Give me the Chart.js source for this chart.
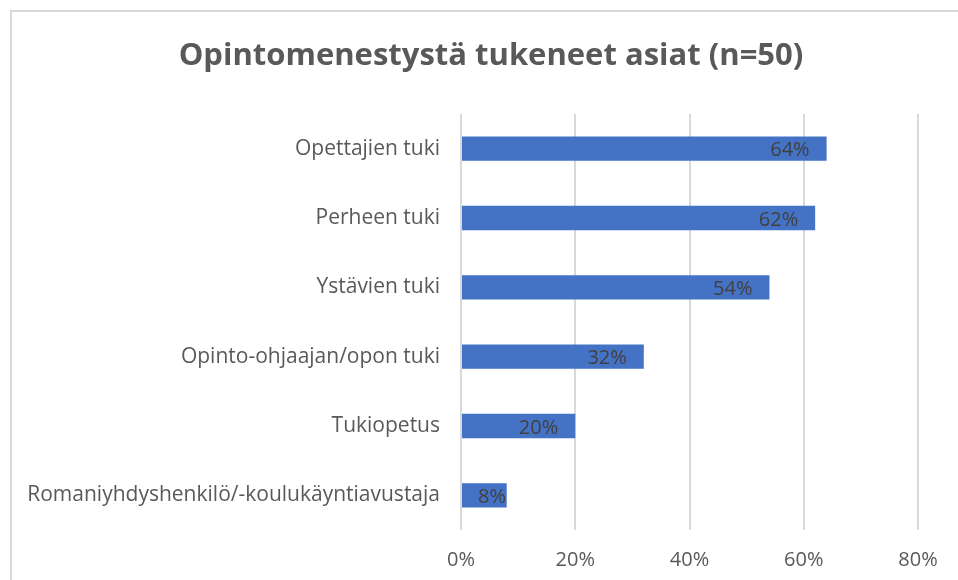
<!DOCTYPE html>
<html>
<head>
<meta charset="utf-8">
<script src="https://cdn.jsdelivr.net/npm/chart.js@4.4.1/dist/chart.umd.min.js"></script>
<style>
    html, body { margin: 0; padding: 0; background: #ffffff; }
    #wrap { position: relative; width: 958px; height: 580px; overflow: hidden; }
    #frame { position: absolute; left: 10px; top: 10px; width: 1000px; height: 1000px;
             border-top: 2px solid #d9d9d9; border-left: 2px solid #d9d9d9; box-sizing: border-box; }
    #support_chart { position: absolute; left: 0; top: 0; }
</style>
</head>
<body>
<div id="wrap">
    <div id="frame"></div>
    <canvas id="support_chart" width="958" height="580"></canvas>
</div>
<script>
const chart_title = "Opintomenestystä tukeneet asiat (n=50)";
const categories = [
    "Opettajien tuki",
    "Perheen tuki",
    "Ystävien tuki",
    "Opinto-ohjaajan/opon tuki",
    "Tukiopetus",
    "Romaniyhdyshenkilö/-koulukäyntiavustaja"
];
const percent_values = [64, 62, 54, 32, 20, 8];
const x_ticks = [0, 20, 40, 60, 80];

const font_family = "'Open Sans', sans-serif";
const text_grey = "#595959";
const bar_blue = "#4472C4";

// labels at the inside end of each bar, like the office chart does it
const inside_end_labels = {
    id: "inside_end_labels",
    afterDatasetsDraw(chart) {
        let ctx = chart.ctx;
        let meta = chart.getDatasetMeta(0);
        ctx.save();
        ctx.font = "20px " + font_family;
        ctx.fillStyle = "#404040";
        ctx.textBaseline = "middle";
        ctx.textAlign = "left";
        meta.data.forEach(function(bar, i) {
            let label = percent_values[i] + "%";
            let w = ctx.measureText(label).width;
            let x = Math.max(bar.x - 17 - w, bar.base + 16);
            ctx.fillText(label, x, bar.y + 2);
        });
        ctx.restore();
    }
};

// title sits a bit right of the canvas middle in the original
const offset_title = {
    id: "offset_title",
    afterDraw(chart) {
        let ctx = chart.ctx;
        ctx.save();
        ctx.font = "bold 31px " + font_family;
        ctx.fillStyle = text_grey;
        ctx.textAlign = "center";
        ctx.textBaseline = "middle";
        ctx.fillText(chart_title, 491, 56);
        ctx.restore();
    }
};

const support_chart = new Chart(document.getElementById("support_chart").getContext("2d"), {
    type: "bar",
    data: {
        labels: categories,
        datasets: [{
            data: percent_values,
            backgroundColor: bar_blue,
            borderWidth: 0,
            categoryPercentage: 1,
            barPercentage: 0.35
        }]
    },
    options: {
        indexAxis: "y",
        responsive: false,
        animation: false,
        layout: { padding: { left: 0, right: 40, top: 114, bottom: 0 } },
        plugins: {
            legend: { display: false },
            tooltip: { enabled: false },
            title: { display: false }
        },
        scales: {
            x: {
                min: 0,
                max: 80,
                afterBuildTicks: function(axis) {
                    axis.ticks = x_ticks.map(v => ({ value: v }));
                },
                afterFit: function(axis) { axis.height = 50; },
                ticks: {
                    color: text_grey,
                    font: { family: font_family, size: 20 },
                    padding: 18,
                    callback: v => v + "%"
                },
                grid: { color: "#d9d9d9", lineWidth: 2, drawTicks: false },
                border: { display: false }
            },
            y: {
                afterFit: function(axis) { axis.width = 461; },
                ticks: {
                    color: text_grey,
                    font: { family: font_family, size: 21 },
                    padding: 21
                },
                grid: { display: false, drawTicks: false },
                border: { display: false }
            }
        }
    },
    plugins: [inside_end_labels, offset_title]
});
</script>
</body>
</html>
